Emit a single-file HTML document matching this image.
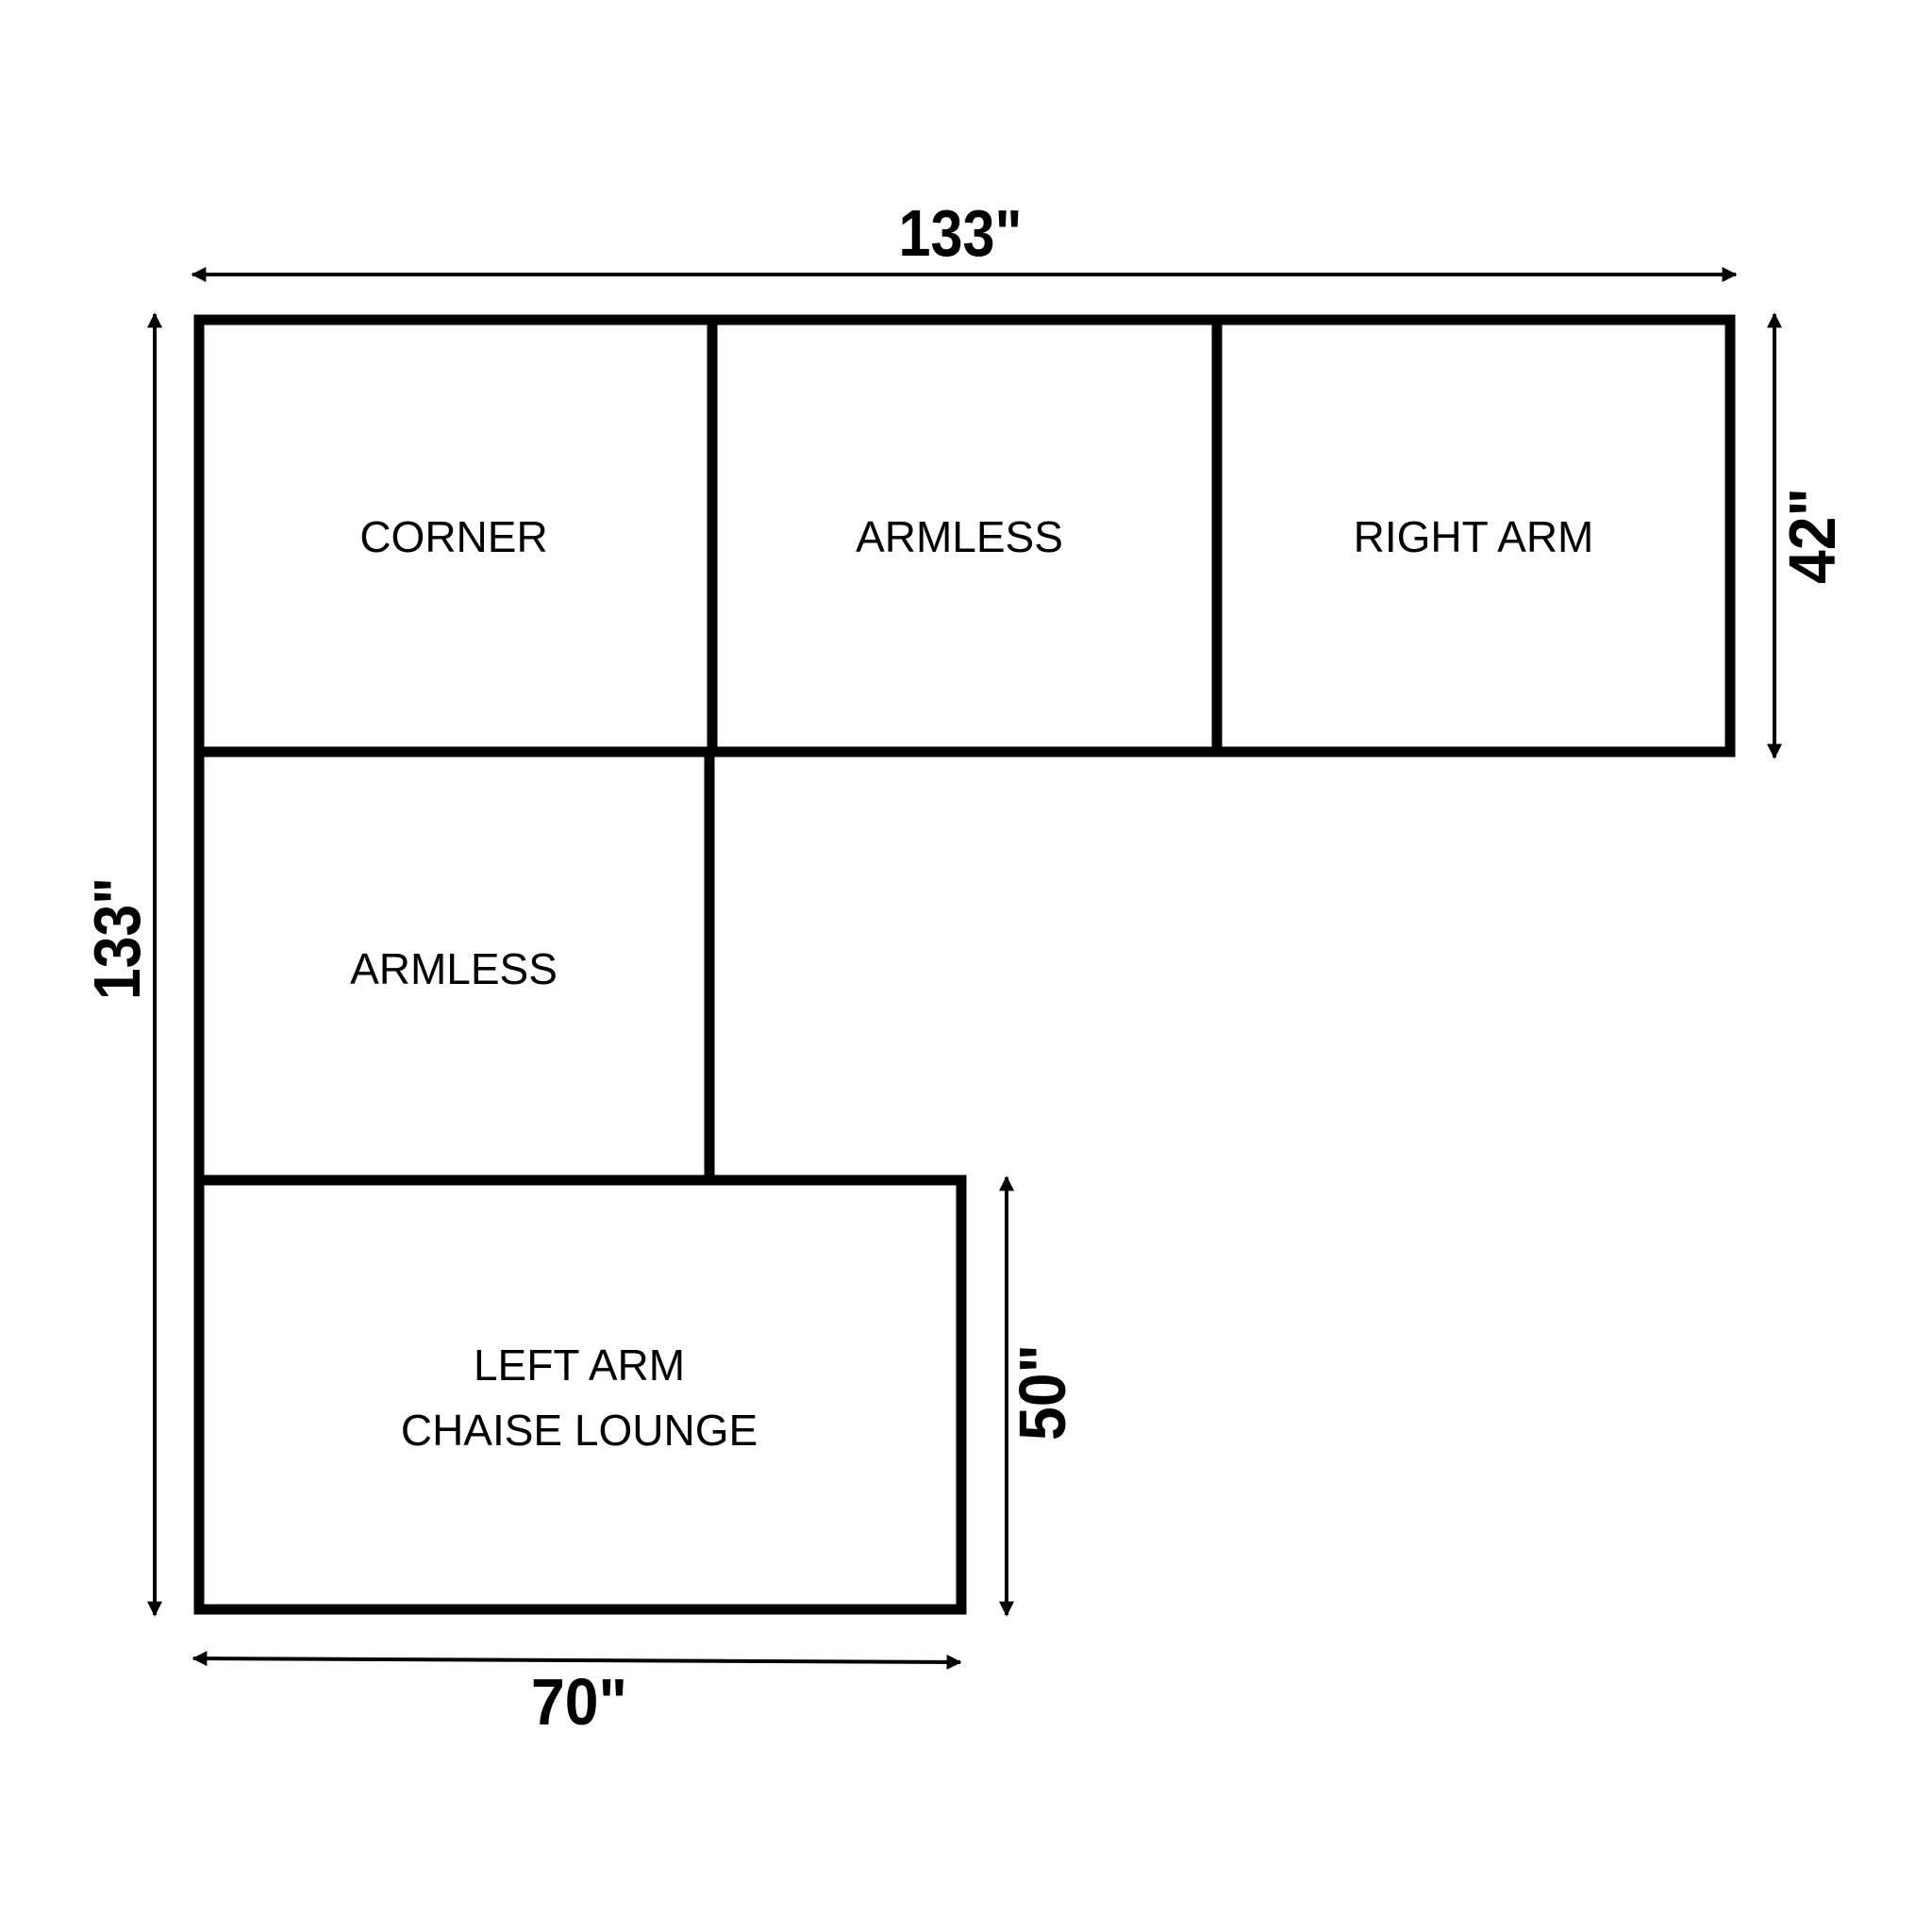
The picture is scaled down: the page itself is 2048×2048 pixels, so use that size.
<!DOCTYPE html>
<html><head><meta charset="utf-8"><style>
html,body{margin:0;padding:0;background:#fff;}
svg{display:block;}
.l{font-family:"Liberation Sans",sans-serif;font-size:46px;fill:#000;text-anchor:middle;}
.b{font-family:"Liberation Sans",sans-serif;font-size:70px;font-weight:bold;fill:#000;text-anchor:middle;}
</style></head><body>
<svg width="2048" height="2048" viewBox="0 0 2048 2048" xmlns="http://www.w3.org/2000/svg">
<defs>
<marker id="a" viewBox="0 0 10 10" refX="9" refY="5" markerWidth="4" markerHeight="4.4" orient="auto-start-reverse" markerUnits="strokeWidth">
<path d="M0,0 L10,5 L0,10 z" fill="#000"/>
</marker>
</defs>
<g fill="none" stroke="#000" stroke-width="11">
<rect x="211" y="339" width="1623" height="458"/>
<line x1="755" y1="339" x2="755" y2="797"/>
<line x1="1290" y1="339" x2="1290" y2="797"/>
<line x1="211" y1="794" x2="211" y2="1706"/>
<line x1="752" y1="797" x2="752" y2="1251"/>
<rect x="211" y="1251" width="808" height="455"/>
</g>
<g stroke="#000" stroke-width="4" marker-start="url(#a)" marker-end="url(#a)">
<line x1="204" y1="291" x2="1840" y2="291"/>
<line x1="164" y1="333" x2="164" y2="1712"/>
<line x1="1881" y1="333" x2="1881" y2="803"/>
<line x1="1067" y1="1248" x2="1067" y2="1712"/>
<line x1="205" y1="1758" x2="1018" y2="1762"/>
</g>
<text class="l" x="481" y="585">CORNER</text>
<text class="l" x="1017" y="585">ARMLESS</text>
<text class="l" x="1562" y="585">RIGHT ARM</text>
<text class="l" x="481" y="1043">ARMLESS</text>
<text class="l" x="614" y="1463">LEFT ARM</text>
<text class="l" x="614" y="1532">CHAISE LOUNGE</text>
<text class="b" x="1018" y="271" textLength="131" lengthAdjust="spacingAndGlyphs">133"</text>
<text class="b" x="614" y="1828" textLength="102" lengthAdjust="spacingAndGlyphs">70"</text>
<text class="b" transform="translate(148,995) rotate(-90)" textLength="130" lengthAdjust="spacingAndGlyphs">133"</text>
<text class="b" transform="translate(1945,568) rotate(-90)" textLength="102" lengthAdjust="spacingAndGlyphs">42"</text>
<text class="b" transform="translate(1129,1476) rotate(-90)" textLength="102" lengthAdjust="spacingAndGlyphs">50"</text>
</svg>
</body></html>
